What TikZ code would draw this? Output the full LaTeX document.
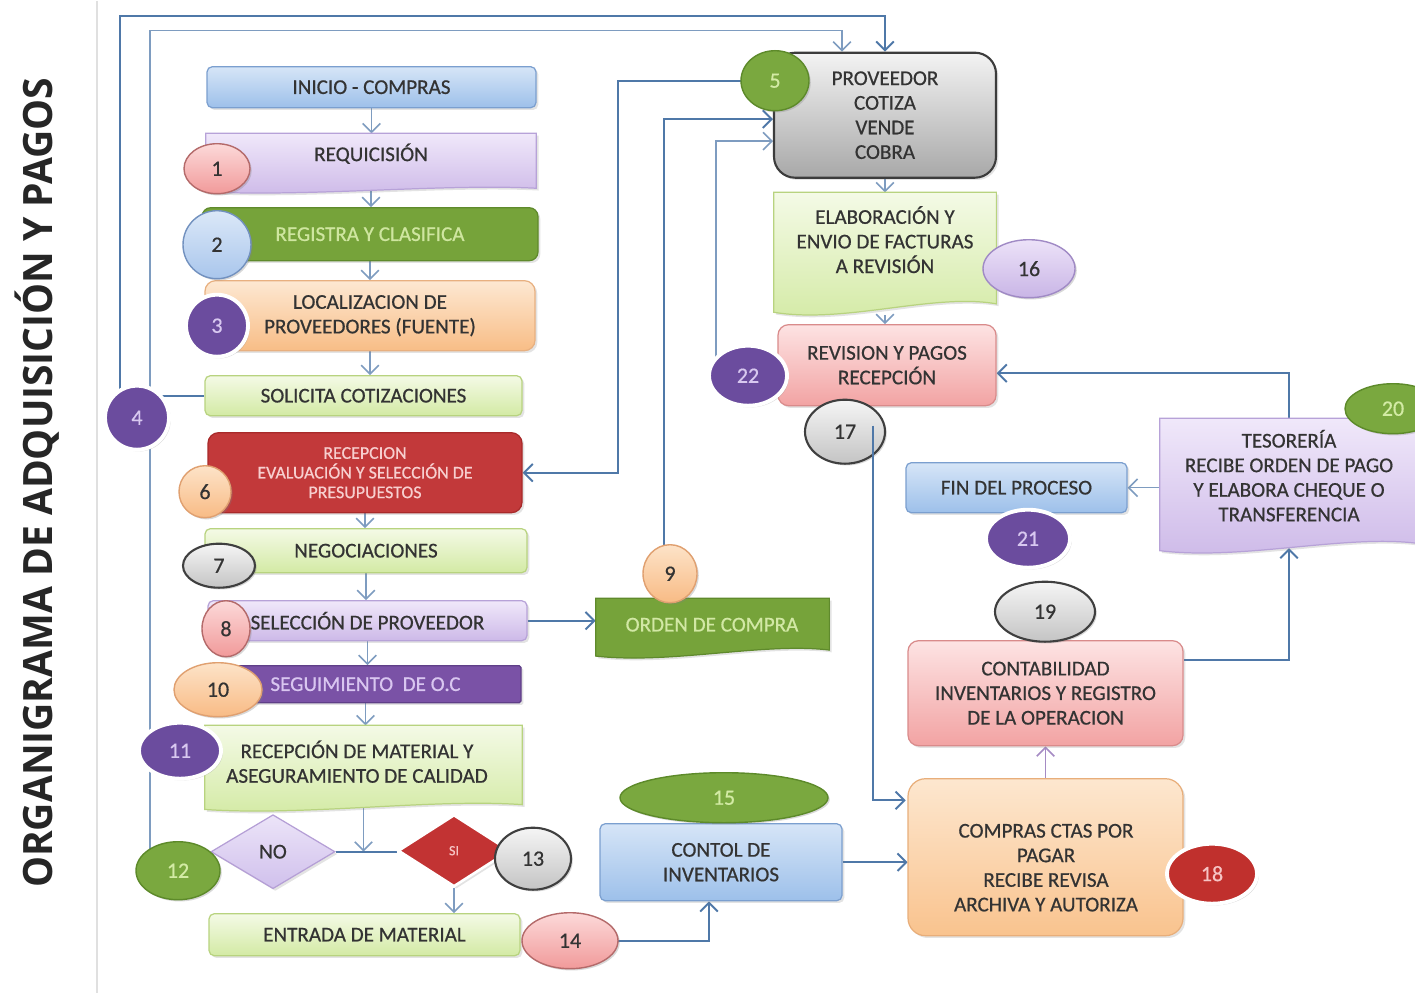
\documentclass[tikz,border=0pt]{standalone}
\usepackage{fontspec}
\setmainfont[FakeBold=0.6]{Carlito}
\newfontfamily\titlefont{Open Sans}
\usetikzlibrary{shapes.geometric,arrows.meta,calc,shadows}

\definecolor{txt}{HTML}{333333}
\definecolor{lineC}{HTML}{4F78A8}
\definecolor{lineL}{HTML}{7E9CC0}
\definecolor{lineP}{HTML}{A58BC4}

\pgfdeclarelayer{back}\pgfdeclarelayer{lines}\pgfdeclarelayer{shapes}
\pgfsetlayers{back,lines,shapes,main}

\newcommand\pbox[7]{\node[#6, minimum width={(#4-#2)*0.02cm}, minimum height={(#5-#3)*0.02cm}] (#1) at ({(#2+#4)/2},{(#3+#5)/2}) {#7};}
\newcommand\bdg[7]{\node[badge, #6, minimum width={#4*0.02cm}, minimum height={#5*0.02cm}] (#1) at (#2,#3) {#7};}
\newcommand\docshape[3]{\path[#2] (#1.north west) -- (#1.north east) -- ($(#1.south east)+(0,-1.6*#3)$) .. controls ($(#1.south west)!0.72!(#1.south east)+(0,-3.2*#3)$) and ($(#1.south west)!0.32!(#1.south east)+(0,1.3*#3)$) .. ($(#1.south west)+(0,-0.4*#3)$) -- cycle;}

\begin{document}
\begin{tikzpicture}[x=0.02cm,y=-0.02cm,
  every node/.append style={font=\fontsize{12}{14}\selectfont, text=txt},
  shad/.style={drop shadow={opacity=0.22,shadow xshift=1.3pt,shadow yshift=-1.3pt}},
  box/.style={rectangle, rounded corners=3pt, draw, line width=0.7pt, align=center, inner sep=0pt, shad},
  frame/.style={rectangle, draw=none, inner sep=0pt},
  plain/.style={align=center, inner sep=0pt},
  blueBox/.style={box, draw={rgb,255:red,123;green,159;blue,207}, top color={rgb,255:red,214;green,229;blue,247}, bottom color={rgb,255:red,157;green,192;blue,234}},
  lavBox/.style={box, draw={rgb,255:red,183;green,162;blue,216}, top color={rgb,255:red,240;green,232;blue,250}, bottom color={rgb,255:red,205;green,185;blue,232}},
  grnBox/.style={box, rounded corners=5pt, draw={rgb,255:red,95;green,138;blue,44}, fill={rgb,255:red,118;green,163;blue,58}, text={rgb,255:red,207;green,230;blue,160}},
  orgBox/.style={box, rounded corners=6pt, draw={rgb,255:red,232;green,176;blue,128}, top color={rgb,255:red,253;green,232;blue,210}, bottom color={rgb,255:red,248;green,189;blue,134}},
  lgBox/.style={box, draw={rgb,255:red,184;green,211;blue,127}, top color={rgb,255:red,244;green,250;blue,230}, bottom color={rgb,255:red,211;green,234;blue,164}},
  redBox/.style={box, rounded corners=6pt, draw={rgb,255:red,168;green,42;blue,42}, fill={rgb,255:red,194;green,57;blue,58}, text={rgb,255:red,247;green,207;blue,207}},
  purBox/.style={box, rounded corners=1pt, draw={rgb,255:red,95;green,63;blue,136}, fill={rgb,255:red,122;green,82;blue,166}, text={rgb,255:red,217;green,198;blue,240}},
  grayBox/.style={box, rounded corners=12pt, line width=1.2pt, draw={rgb,255:red,60;green,60;blue,60}, top color={rgb,255:red,243;green,243;blue,243}, bottom color={rgb,255:red,168;green,168;blue,168}},
  pinkBox/.style={box, rounded corners=6pt, draw={rgb,255:red,217;green,139;blue,139}, top color={rgb,255:red,253;green,227;blue,227}, bottom color={rgb,255:red,242;green,163;blue,163}},
  cmpBox/.style={box, rounded corners=10pt, draw={rgb,255:red,232;green,174;blue,122}, top color={rgb,255:red,253;green,231;blue,207}, bottom color={rgb,255:red,249;green,195;blue,142}},
  lavDoc/.style={draw={rgb,255:red,183;green,162;blue,216}, line width=0.7pt, top color={rgb,255:red,240;green,232;blue,250}, bottom color={rgb,255:red,205;green,185;blue,232}, shad},
  lgDoc/.style={draw={rgb,255:red,184;green,211;blue,127}, line width=0.7pt, top color={rgb,255:red,244;green,250;blue,230}, bottom color={rgb,255:red,211;green,234;blue,164}, shad},
  grnDoc/.style={draw={rgb,255:red,95;green,138;blue,44}, line width=0.7pt, fill={rgb,255:red,118;green,163;blue,58}, shad},
  badge/.style={ellipse, inner sep=0pt, line width=0.8pt, font=\fontsize{12.5}{12.5}\selectfont, drop shadow={opacity=0.3,shadow xshift=1pt,shadow yshift=-1pt}},
  pinkB/.style={draw={rgb,255:red,180;green,106;blue,106}, top color={rgb,255:red,252;green,217;blue,217}, bottom color={rgb,255:red,241;green,154;blue,154}},
  blueB/.style={draw={rgb,255:red,114;green,145;blue,191}, top color={rgb,255:red,219;green,232;blue,248}, bottom color={rgb,255:red,169;green,198;blue,236}},
  purB/.style={draw=white, line width=2.2pt, fill={rgb,255:red,107;green,76;blue,158}, text={rgb,255:red,216;green,200;blue,240}},
  orgB/.style={draw={rgb,255:red,224;green,160;blue,112}, top color={rgb,255:red,253;green,227;blue,200}, bottom color={rgb,255:red,248;green,187;blue,133}},
  grayB/.style={draw={rgb,255:red,63;green,63;blue,63}, line width=1.2pt, top color={rgb,255:red,245;green,245;blue,245}, bottom color={rgb,255:red,196;green,196;blue,196}},
  grnB/.style={draw={rgb,255:red,93;green,138;blue,42}, fill={rgb,255:red,122;green,168;blue,63}, text={rgb,255:red,211;green,235;blue,165}},
  redB/.style={draw=white, line width=2.2pt, fill={rgb,255:red,192;green,48;blue,45}, text={rgb,255:red,246;green,196;blue,196}},
  lavB/.style={draw={rgb,255:red,160;green,138;blue,197}, top color={rgb,255:red,236;green,226;blue,248}, bottom color={rgb,255:red,201;green,181;blue,230}},
  arr/.style={draw=lineC, line width=1.1pt, -{Straight Barb[length=5pt,width=10pt]}},
  arrL/.style={draw=lineL, line width=0.9pt, -{Straight Barb[length=5pt,width=10pt]}},
  arrP/.style={draw=lineP, line width=0.9pt, -{Straight Barb[length=5pt,width=10pt]}},
  lin/.style={draw=lineC, line width=1.1pt}
]
\begin{pgfonlayer}{back}
\fill[white] (0,0) rectangle (1415,992);
\draw[black!12, line width=0.8pt] (97,0) -- (97,992);
\end{pgfonlayer}
\useasboundingbox (0,0) rectangle (1415,992);

% title
\node[rotate=90, font=\titlefont\bfseries\fontsize{23}{23}\selectfont, text=black!85] (title) at (37,482) {\scalebox{0.965}[1]{ORGANIGRAMA DE ADQUISICIÓN Y PAGOS}};

% left column
\pbox{inicio}{207}{66}{536}{107}{blueBox}{INICIO - COMPRAS}
\pbox{req}{206}{133}{536}{192}{frame}{}
\node[plain] (reqT) at (371,153) {REQUICISIÓN};
\pbox{registra}{202}{207}{538}{260}{grnBox}{REGISTRA Y CLASIFICA}
\pbox{loc}{205}{280}{535}{350}{orgBox}{LOCALIZACION DE\\PROVEEDORES (FUENTE)}
\pbox{solicita}{205}{375}{522}{415}{lgBox}{SOLICITA COTIZACIONES}
\pbox{recep}{208}{432}{522}{512}{redBox, font=\fontsize{10.2}{11.2}\selectfont}{RECEPCION\\EVALUACIÓN Y SELECCIÓN DE\\PRESUPUESTOS}
\pbox{negoc}{205}{528}{527}{572}{lgBox}{NEGOCIACIONES}
\pbox{selprov}{208}{600}{527}{640}{lavBox}{SELECCIÓN DE PROVEEDOR}
\pbox{segui}{210}{665}{521}{702}{purBox}{SEGUIMIENTO\ \ DE O.C}
\pbox{recmat}{205}{725}{522}{810}{frame}{}
\node[plain] (recmatT) at (357,761) {RECEPCIÓN DE MATERIAL Y\\ASEGURAMIENTO DE CALIDAD};
\node[diamond, draw={rgb,255:red,181;green,159;blue,214}, line width=0.7pt, top color={rgb,255:red,236;green,228;blue,248}, bottom color={rgb,255:red,208;green,192;blue,236}, minimum width={124*0.02cm}, minimum height={74*0.02cm}, inner sep=0pt, shad] (no) at (273,851) {NO};
\node[diamond, draw=white, line width=1.5pt, fill={rgb,255:red,194;green,51;blue,51}, text={rgb,255:red,246;green,196;blue,196}, minimum width={112*0.02cm}, minimum height={72*0.02cm}, inner sep=0pt, font=\fontsize{8}{8}\selectfont, shad] (si) at (454,850) {SI};
\pbox{entrada}{209}{913}{520}{955}{lgBox}{ENTRADA DE MATERIAL}

% middle
\pbox{orden}{596}{598}{829}{657}{frame}{}
\node[plain, text={rgb,255:red,210;green,232;blue,165}] (ordenT) at (712,624) {ORDEN DE COMPRA};
\pbox{contol}{600}{823}{842}{900}{blueBox}{CONTOL DE\\INVENTARIOS}
\pbox{prov}{774}{52}{996}{177}{grayBox}{PROVEEDOR\\COTIZA\\VENDE\\COBRA}
\pbox{elab}{774}{192}{996}{314}{frame}{}
\node[plain] (elabT) at (885,239) {ELABORACIÓN Y\\ENVIO DE FACTURAS\\A REVISIÓN};
\pbox{rev}{778}{324}{996}{405}{pinkBox}{REVISION Y PAGOS\\RECEPCIÓN}

% right
\pbox{fin}{906}{462}{1127}{512}{blueBox}{FIN DEL PROCESO}
\pbox{teso}{1160}{418}{1418}{552}{frame}{}
\node[plain] (tesoT) at (1289,475) {TESORERÍA\\RECIBE ORDEN DE PAGO\\Y ELABORA CHEQUE O\\TRANSFERENCIA};
\pbox{contab}{908}{640}{1183}{745}{pinkBox}{CONTABILIDAD\\INVENTARIOS Y REGISTRO\\DE LA OPERACION}
\pbox{compras}{908}{778}{1183}{935}{frame}{}
\begin{pgfonlayer}{shapes}
\node[cmpBox, minimum width={275*0.02cm}, minimum height={157*0.02cm}] (comprasBg) at (compras) {};
\docshape{req}{lavDoc}{3}
\docshape{recmat}{lgDoc}{4}
\docshape{orden}{grnDoc}{5}
\docshape{elab}{lgDoc}{7}
\docshape{teso}{lavDoc}{6}
\end{pgfonlayer}
\node[plain] (comprasT) at (1046,867) {COMPRAS CTAS POR\\PAGAR\\RECIBE REVISA\\ARCHIVA Y AUTORIZA};

% badges
\bdg{b1}{217}{168}{66}{50}{pinkB}{1}
\bdg{b2}{217}{244}{68}{68}{blueB}{2}
\bdg{b3}{217}{325}{62}{62}{purB}{3}
\bdg{b4}{137}{417}{64}{64}{purB}{4}
\bdg{b5}{775}{80}{68}{60}{grnB}{5}
\bdg{b6}{205}{491}{52}{52}{orgB}{6}
\bdg{b7}{219}{565}{72}{44}{grayB}{7}
\bdg{b8}{226}{628}{48}{56}{pinkB}{8}
\bdg{b9}{670}{573}{54}{58}{orgB}{9}
\bdg{b10}{218}{689}{88}{54}{orgB}{10}
\bdg{b11}{180}{750}{82}{56}{purB}{11}
\bdg{b12}{178}{870}{84}{58}{grnB}{12}
\bdg{b13}{533}{858}{76}{62}{grayB}{13}
\bdg{b14}{570}{940}{96}{56}{pinkB}{14}
\bdg{b15}{724}{797}{208}{50}{grnB}{15}
\bdg{b16}{1029}{268}{92}{58}{lavB}{16}
\bdg{b17}{845}{431}{80}{64}{grayB}{17}
\bdg{b18}{1212}{873}{90}{60}{redB}{18}
\bdg{b19}{1045}{611}{100}{60}{grayB}{19}
\bdg{b20}{1393}{408}{96}{50}{grnB}{20}
\bdg{b21}{1028}{538}{84}{58}{purB}{21}
\bdg{b22}{748}{375}{78}{60}{purB}{22}

% coordinates for bends
\coordinate (l1) at (120,15);
\coordinate (l2) at (150,30);
\coordinate (v1) at (618,84);
\coordinate (v2) at (664,118);
\coordinate (v3) at (716,140);
\coordinate (s17) at (873,425);
\coordinate (ce) at ($(contab.north east)+(0,20)$);
\coordinate (p5in) at ($(prov.north west)+(69,0)$);
\coordinate (p5a) at ($(prov.west)+(0,4)$);
\coordinate (p5b) at ($(prov.west)+(0,26)$);
\coordinate (cA) at ($(compras.north west)+(-2,22)$);
\coordinate (ct) at ($(contol.south)+(-12,0)$);
\coordinate (tS) at ($(teso.south)+(0,-5)$);
\coordinate (re) at ($(rev.east)+(0,8)$);

\begin{pgfonlayer}{lines}
\draw[arrL] (inicio.south) -- (inicio.south |- req.north);
\draw[arrL] (reqT.south) -- (reqT.south |- registra.north);
\draw[arrL] (registra.south) -- (registra.south |- loc.north);
\draw[arrL] (loc.south) -- (loc.south |- solicita.north);
\draw[arrL] (recep.south) -- (recep.south |- negoc.north);
\draw[arrL] (negoc.south) -- (negoc.south |- selprov.north);
\draw[arrL] (selprov.south) -- (selprov.south |- segui.north);
\draw[arrL] (segui.south) -- (segui.south |- recmat.north);
\draw[arrL] (recmat.center) -- (recmat.center |- no.east);
\draw[lin] (no.east) -- (no.east -| si.west);
\draw[arrL] (si.south) -- (si.south |- entrada.north);
\draw[lin] (solicita.west) -- (solicita.west -| b4.center);
\draw[arr] (b4.center -| l1) -- (l1) -| (prov.north);
\draw[arrL] (b12.center -| l2) -- (l2) -| (p5in);
\draw[arr] (b5.center) -- (b5.center -| v1) |- (recep.east);
\draw[arr] (b9.center -| v2) |- (p5a);
\draw[arrL] (b22.center -| v3) |- (p5b);
\draw[arrL] (prov.south) -- (elab.north);
\draw[arrL] (elab.south) -- (elab.south |- rev.north);
\draw[arr] (selprov.east) -- (selprov.east -| orden.west);
\draw[arr] (b14.center) -| (ct);
\draw[arr] (contol.east) -- (contol.east -| compras.west);
\draw[arrP] (compras.north) -- (contab.south);
\draw[arr] (ce) -| (tS);
\draw[arr] (teso.north) |- (re);
\draw[arrL] (teso.west |- fin.east) -- (fin.east);
\end{pgfonlayer}
\draw[arr] (s17) |- (cA);
\end{tikzpicture}
\end{document}
